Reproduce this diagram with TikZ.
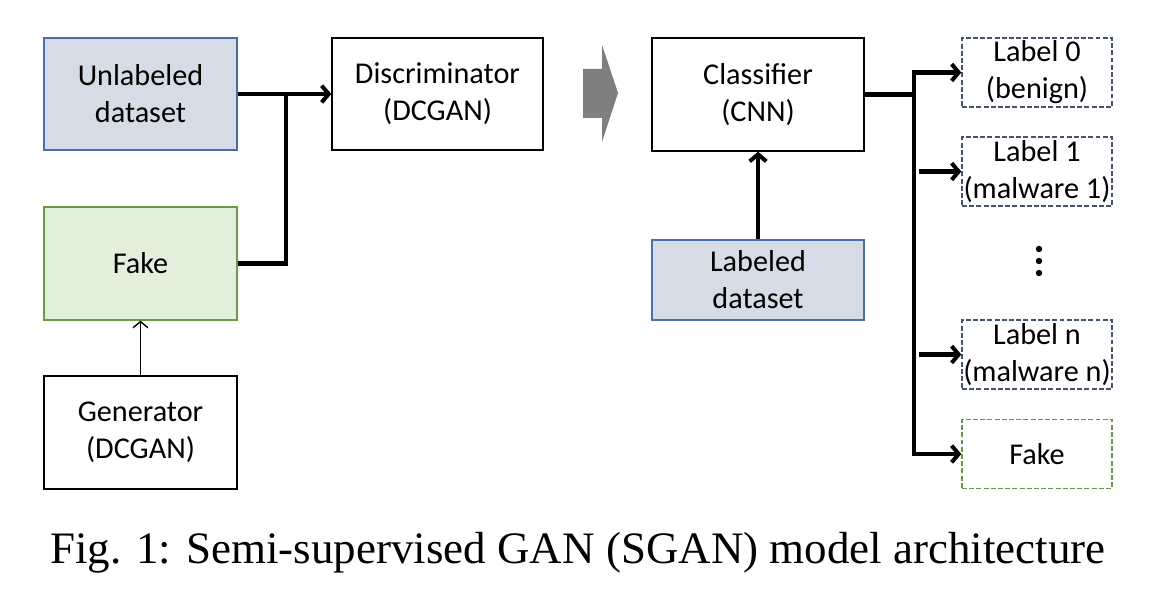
\documentclass[tikz,border=0pt]{standalone}
\usepackage{fontspec}
\setmainfont{Carlito}
\newfontfamily\capfont{Liberation Serif}
\usetikzlibrary{arrows.meta}
\definecolor{dsfill}{HTML}{D6DCE5}
\definecolor{dsline}{HTML}{4A6EA8}
\definecolor{fkfill}{HTML}{E2EFDA}
\definecolor{fkline}{HTML}{6A9A45}
\definecolor{lbline}{HTML}{44546A}
\definecolor{arrgray}{HTML}{7F7F7F}
\begin{document}
\begin{tikzpicture}[x=0.02cm,y=-0.02cm,every node/.style={font=\fontsize{17.2}{21}\selectfont},
  box/.style={draw,line width=0.8pt,align=center,inner sep=0pt},
  dsbox/.style={box,draw=dsline,fill=dsfill},
  fkbox/.style={box,draw=fkline,fill=fkfill},
  lblbox/.style={box,draw=lbline,dash pattern=on 2.8pt off 1.3pt,minimum width=3cm,minimum height=1.38cm},
  thickline/.style={line width=2.3pt},
  thickarr/.style={thickline,-{Straight Barb[length=4pt,width=9.5pt]}},
  thinarr/.style={line width=0.8pt,-{Straight Barb[length=3.5pt,width=8.5pt]}}]
  \useasboundingbox (0,0) rectangle (1166,604);
  % left part
  \node[dsbox,minimum width=3.86cm,minimum height=2.24cm] (unlab) at (140.5,94) {Unlabeled\\dataset};
  \node[fkbox,minimum width=3.86cm,minimum height=2.26cm] (fakeL) at (140.5,263.5) {Fake};
  \node[box,minimum width=3.86cm,minimum height=2.26cm] (gen) at (140.5,432.5) {Generator\\(DCGAN)};
  \node[box,minimum width=4.22cm,minimum height=2.24cm] (disc) at (437.5,94) {Discriminator\\(DCGAN)};
  \coordinate (jn) at (286,94);
  \draw[thickarr] (unlab.east) -- (disc.west);
  \draw[thickline] (fakeL.east) -| (jn);
  \draw[thinarr] (gen.north) -- (fakeL.south);
  % gray arrow
  \fill[arrgray] (583,69) -- (602,69) -- (602,45) -- (618,93) -- (602,142) -- (602,118) -- (583,118) -- cycle;
  % right part
  \node[box,minimum width=4.24cm,minimum height=2.26cm] (clf) at (758,94.5) {Classifier\\(CNN)};
  \node[dsbox,minimum width=4.24cm,minimum height=1.6cm] (labd) at (758,280) {Labeled\\dataset};
  \draw[thickarr] (labd.north) -- (clf.south);
  \node[lblbox] (lab0) at (1037,72.5) {Label 0\\(benign)};
  \node[lblbox] (lab1) at (1037,171.5) {Label 1\\(malware 1)};
  \node[lblbox] (labn) at (1037,354.5) {Label n\\(malware n)};
  \node[lblbox,draw=fkline] (fakeR) at (1037,454) {Fake};
  \foreach \yy in {249,261,273} \fill (1039,\yy) circle (3.2);
  \coordinate (bus) at (914,94.5);
  \draw[thickline] (clf.east) -- (bus);
  \draw[thickarr] (bus) |- (lab0.west);
  \draw[thickarr] (bus) |- (fakeR.west);
  \draw[thickarr] ([xshift=-0.84cm]lab1.west) -- (lab1.west);
  \draw[thickarr] ([xshift=-0.84cm]labn.west) -- (labn.west);
  % caption
  \node[font=\capfont\fontsize{25.6}{30}\selectfont] (cap) at (578,553) {Fig. 1: Semi-supervised GAN (SGAN) model architecture};
\end{tikzpicture}
\end{document}
